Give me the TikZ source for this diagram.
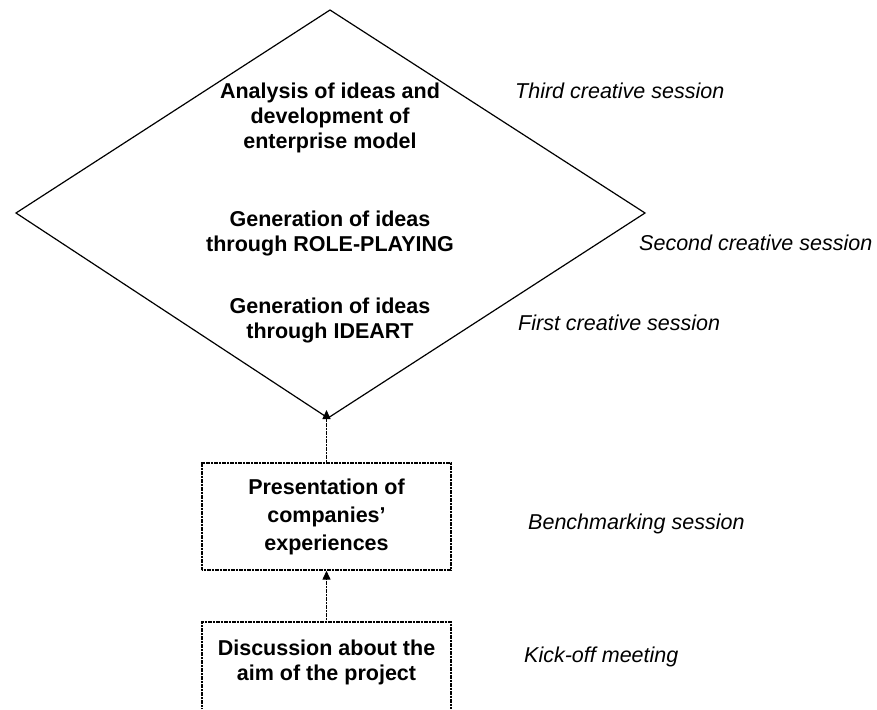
\documentclass[tikz,border=0pt]{standalone}
\usepackage{fontspec}
\setmainfont{Liberation Sans}
\usetikzlibrary{arrows.meta}
\begin{document}
\begin{tikzpicture}[x=1pt,y=-1pt,
  lbl/.style={font=\fontsize{21.5}{25}\selectfont\itshape, anchor=west, inner sep=0pt},
  stage/.style={font=\fontsize{21.5}{25}\selectfont\bfseries, align=center, inner sep=0pt},
  frame/.style={draw=black, line width=1.4pt, dash pattern=on 1.2pt off 0.4pt},
  edge/.style={line width=1.3pt, dash pattern=on 1.2pt off 0.4pt, -{Triangle[length=9pt,width=8pt]}}]
\useasboundingbox (0,0) rectangle (877,709);

% creative sessions: the diamond
\coordinate (dtop) at (330,10);
\coordinate (dright) at (645,213);
\coordinate (dbot) at (328,418);
\coordinate (dleft) at (16,213);
\draw[line width=1.2pt, line join=miter] (dtop) -- (dright) -- (dbot) -- (dleft) -- cycle;

\node[stage] (t3) at (330,118) {Analysis of ideas and\\development of\\enterprise model};
\node[stage] (t2) at (330,233) {Generation of ideas\\through ROLE-PLAYING};
\node[stage] (t1) at (330,320) {Generation of ideas\\through IDEART};

% benchmarking box
\node[frame, stage, font=\fontsize{21.5}{28}\selectfont\bfseries,
      minimum width=249pt, minimum height=107pt] (b1) at (326.5,516.5)
      {Presentation of\\companies’\\experiences};

% kick-off box, open at the bottom
\coordinate (b2nw) at (202,622);
\coordinate (b2ne) at (451,622);
\coordinate (b2top) at (326.5,622);
\draw[frame] (202,709) -- (b2nw) -- (b2ne) -- (451,709);
\node[stage] (b2) at (326.5,662) {Discussion about the\\aim of the project};

% connectors
\draw[edge] (b2top) -- (b1.south);
\draw[edge, shorten >=-8pt] (b1.north) -- (b1.north |- dbot);

% session labels
\node[lbl] (l3) at (515,91) {Third creative session};
\node[lbl] (l2) at (639,243) {Second creative session};
\node[lbl] (l1) at (518,323) {First creative session};
\node[lbl] (lb) at (528,524) {Benchmarking session};
\node[lbl] (lk) at (524,657) {Kick-off meeting};
\end{tikzpicture}
\end{document}
